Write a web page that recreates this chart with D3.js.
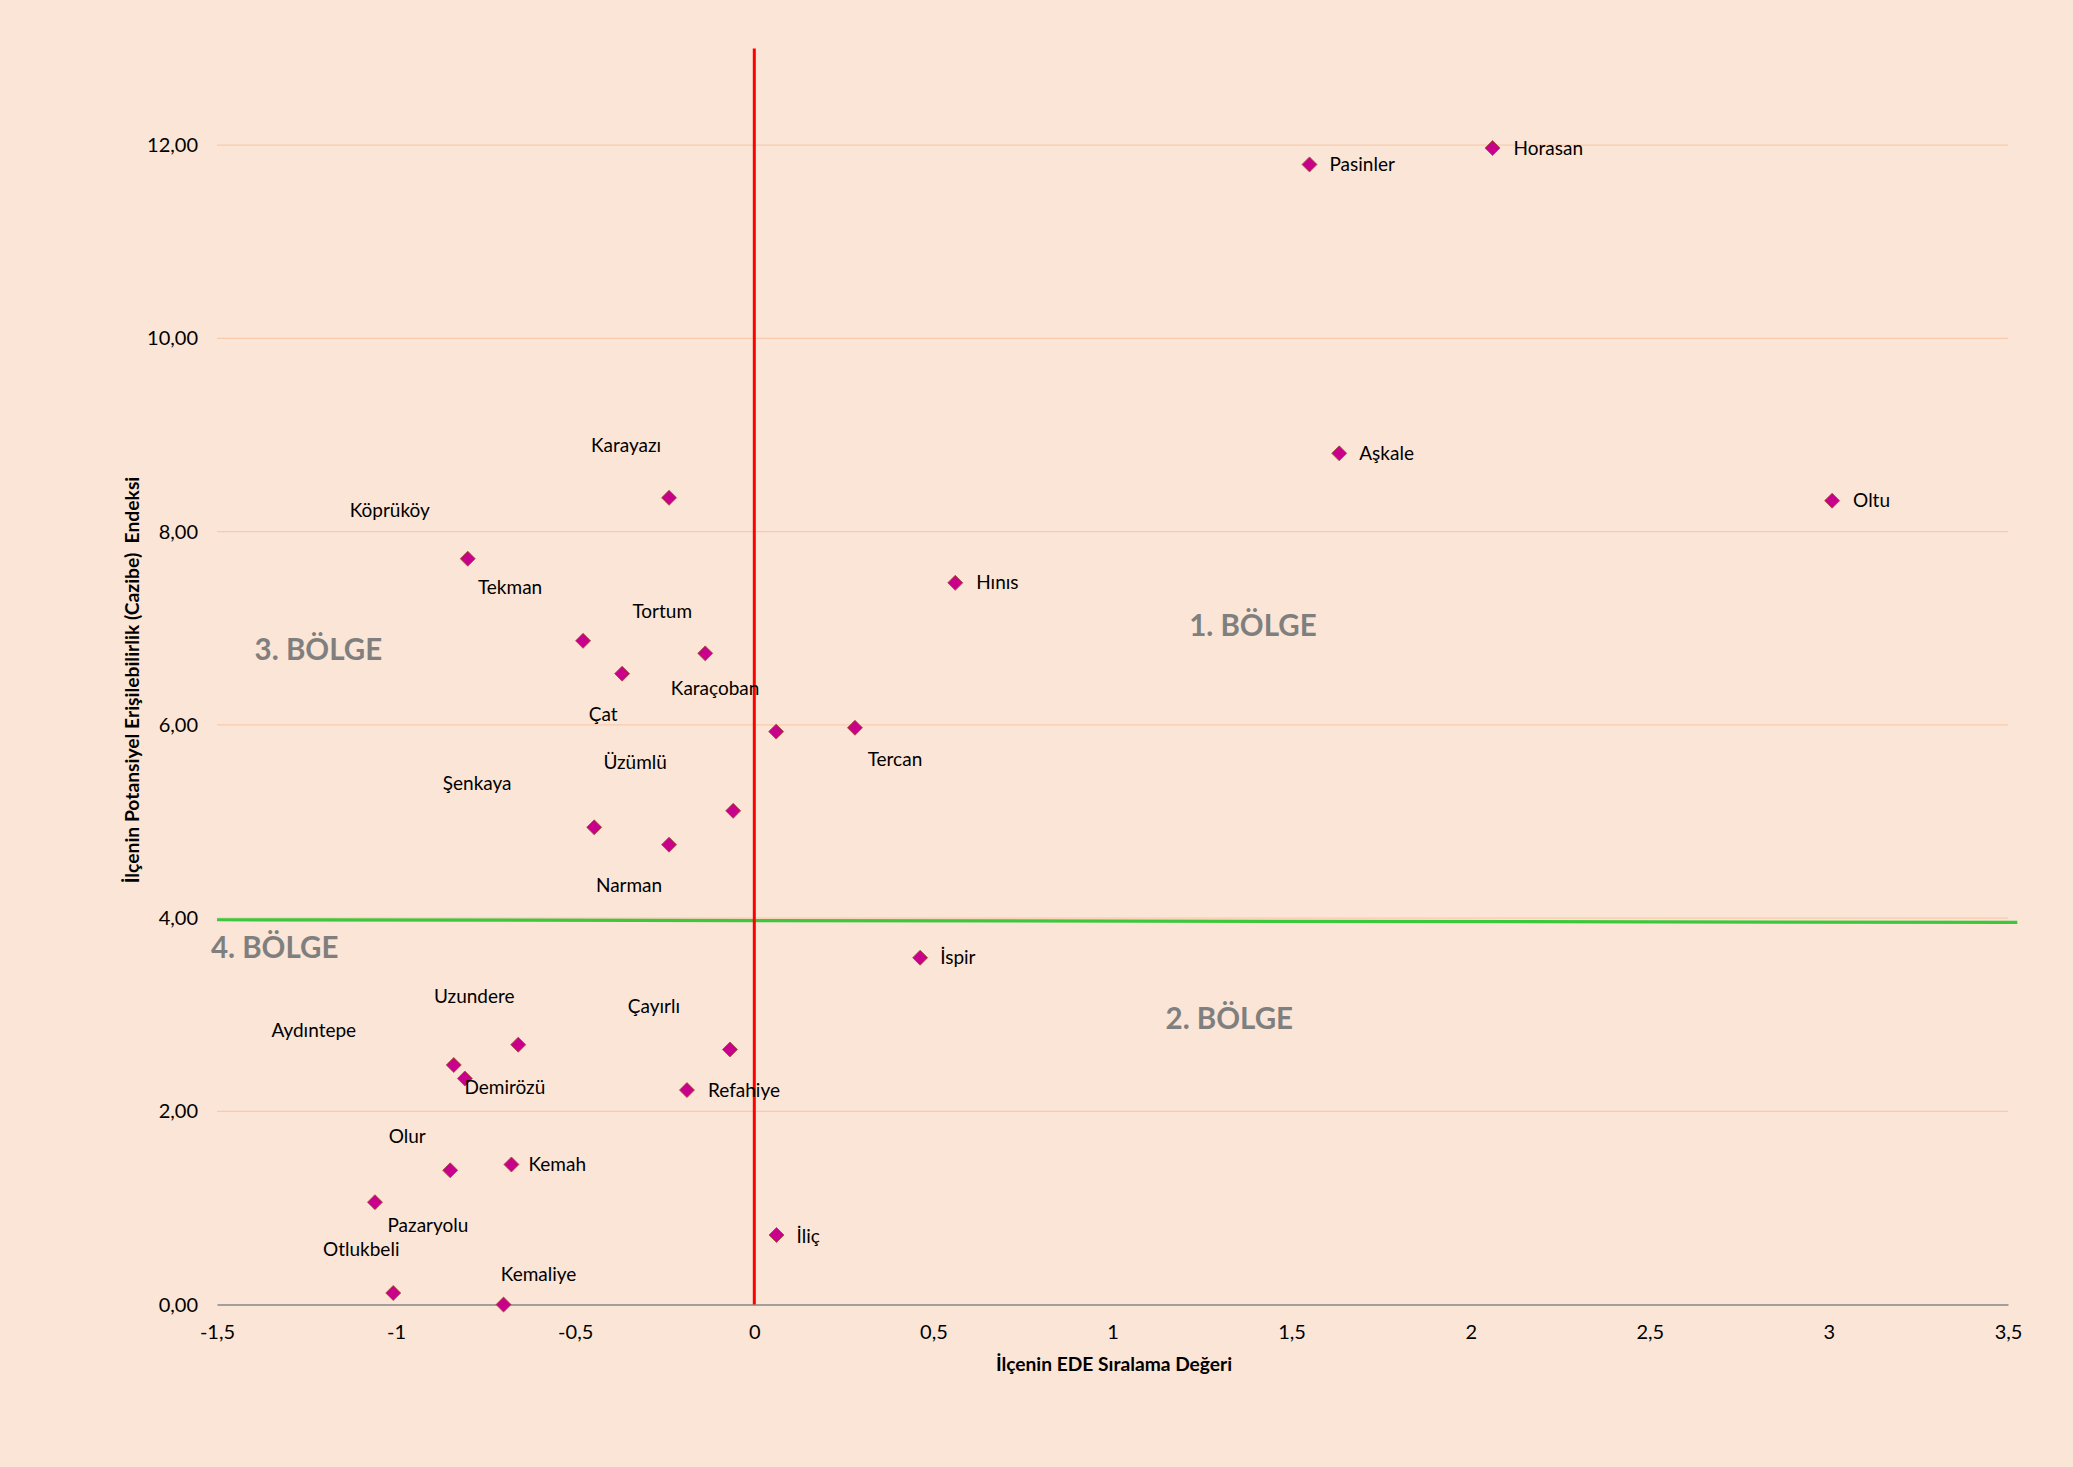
<!DOCTYPE html>
<html>
<head>
<meta charset="utf-8">
<script src="https://cdnjs.cloudflare.com/ajax/libs/d3/7.8.5/d3.min.js"></script>
<style>
  html, body { margin: 0; padding: 0; background: #FBE5D6; }
  svg { display: block; }
</style>
</head>
<body>
<svg id="chart" width="2073" height="1467"></svg>
<script>
// ---------------- DATA ----------------
const districts = ["Horasan","Pasinler","Aşkale","Oltu","Hınıs","Karayazı","Köprüköy","Tekman","Tortum","Çat",
  "Karaçoban","Tercan","Üzümlü","Şenkaya","Narman","İspir","Uzundere","Çayırlı","Aydıntepe","Demirözü",
  "Refahiye","Olur","Kemah","Pazaryolu","Otlukbeli","Kemaliye","İliç"];
const edeValues = [2.061, 1.550, 1.633, 3.009, 0.561, -0.238, -0.800, -0.478, -0.137, -0.369,
  0.061, 0.281, -0.059, -0.447, -0.238, 0.463, -0.659, -0.068, -0.839, -0.808,
  -0.188, -0.849, -0.678, -1.059, -1.008, -0.700, 0.062];
const cazibeValues = [11.97, 11.80, 8.81, 8.32, 7.47, 8.35, 7.72, 6.87, 6.74, 6.53,
  5.93, 5.97, 5.11, 4.94, 4.76, 3.59, 2.69, 2.64, 2.48, 2.34,
  2.22, 1.39, 1.45, 1.06, 0.12, 0.00, 0.72];
const xTicks = [-1.5, -1, -0.5, 0, 0.5, 1, 1.5, 2, 2.5, 3, 3.5];
const yTicks = [0, 2, 4, 6, 8, 10, 12];
const zoneNames = ["1. BÖLGE", "2. BÖLGE", "3. BÖLGE", "4. BÖLGE"];
const zoneX = [1.392, 1.326, -1.217, -1.339];
const zoneY = [7.03, 2.956, 6.775, 3.695];
const xTitle = "İlçenin EDE Sıralama Değeri";
const yTitle = "İlçenin Potansiyel Erişilebilirlik (Cazibe)  Endeksi";
// reference lines (data units)
const vLine = { x: 0, y0: 0, y1: 13 };
const hLine = { x0: -1.5, y0: 3.983, x1: 3.526, y1: 3.955 };

// ---------------- LAYOUT ----------------
// label placement: [dx, dy, anchor] in px relative to marker
const labelLayout = {
  "Horasan":[21,0,"start"], "Pasinler":[20,0,"start"], "Aşkale":[20,0,"start"], "Oltu":[21,0,"start"],
  "Hınıs":[21,0,"start"], "İspir":[20,0,"start"], "Kemah":[17,0,"start"], "Refahiye":[21,0,"start"], "İliç":[20,1,"start"],
  "Karayazı":[-43,-52,"middle"], "Köprüköy":[-78,-48,"middle"], "Tekman":[-73,-53,"middle"],
  "Tortum":[-43,-42,"middle"], "Karaçoban":[-61,-43,"middle"], "Çat":[-19,41,"middle"],
  "Tercan":[40,32,"middle"], "Üzümlü":[-98,-49,"middle"], "Şenkaya":[-117,-44,"middle"],
  "Narman":[-40,41,"middle"], "Uzundere":[-44,-48,"middle"], "Çayırlı":[-76,-43,"middle"],
  "Aydıntepe":[-140,-35,"middle"], "Demirözü":[40,9,"middle"], "Olur":[-43,-34,"middle"],
  "Pazaryolu":[53,23,"middle"], "Otlukbeli":[-32,-44,"middle"], "Kemaliye":[35,-30,"middle"]
};

const W = 2073, H = 1467;
const plot = { left: 217, right: 2008, top: 48.5, bottom: 1304.6 };
const FONT = "Lato, 'Open Sans', sans-serif";

const svg = d3.select("#chart");
svg.append("rect").attr("width", W).attr("height", H).attr("fill", "#FBE5D6");

const x = d3.scaleLinear().domain([-1.5, 3.5]).range([plot.left, plot.right]);
const y = d3.scaleLinear().domain([0, 13]).range([plot.bottom, plot.top]);

const loc = d3.formatLocale({ decimal: ",", thousands: ".", grouping: [3], currency: ["", " ₺"], minus: "-" });
const fmtY = loc.format(".2f");
const fmtX = loc.format(".2~f");

// gridlines
svg.append("g").selectAll("line").data(yTicks.filter(d => d > 0)).join("line")
  .attr("x1", plot.left).attr("x2", plot.right)
  .attr("y1", d => y(d)).attr("y2", d => y(d))
  .attr("stroke", "#F8CBAD").attr("stroke-width", 1.3);

// y axis (labels only)
const yAxis = svg.append("g").attr("transform", `translate(${plot.left},0)`)
  .call(d3.axisLeft(y).tickValues(yTicks).tickFormat(fmtY).tickSize(0).tickPadding(19));
yAxis.select(".domain").remove();
yAxis.selectAll("text").attr("font-family", FONT).attr("font-size", 20).attr("fill", "#000");

// x axis
const xAxis = svg.append("g").attr("transform", `translate(0,${plot.bottom})`)
  .call(d3.axisBottom(x).tickValues(xTicks).tickFormat(fmtX).tickSize(0).tickPadding(20));
xAxis.select(".domain").attr("stroke", "#868686").attr("stroke-width", 1.5);
xAxis.selectAll("text").attr("font-family", FONT).attr("font-size", 20).attr("fill", "#000");

// axis titles
svg.append("text").attr("x", 1114).attr("y", 1364).attr("dy", "0.35em")
  .attr("text-anchor", "middle").attr("font-family", FONT).attr("font-weight", "bold")
  .attr("font-size", 19.2).text(xTitle);
svg.append("text").attr("transform", "translate(132,680) rotate(-90)").attr("dy", "0.35em")
  .attr("text-anchor", "middle").attr("font-family", FONT).attr("font-weight", "bold")
  .attr("font-size", 19.3).attr("xml:space", "preserve").style("white-space", "pre").text(yTitle);

// reference lines
svg.append("line").attr("x1", x(hLine.x0)).attr("y1", y(hLine.y0))
  .attr("x2", x(hLine.x1)).attr("y2", y(hLine.y1))
  .attr("stroke", "#3CC83C").attr("stroke-width", 3.2);
svg.append("line").attr("x1", x(vLine.x)).attr("x2", x(vLine.x))
  .attr("y1", y(vLine.y0)).attr("y2", y(vLine.y1))
  .attr("stroke", "#FF0000").attr("stroke-width", 3);

// zone labels
svg.append("g").selectAll("text").data(zoneNames).join("text")
  .attr("x", (d, i) => x(zoneX[i])).attr("y", (d, i) => y(zoneY[i])).attr("dy", "0.35em")
  .attr("text-anchor", "middle").attr("font-family", FONT).attr("font-weight", "bold")
  .attr("font-size", 29.5).attr("fill", "#7F7F7F").text(d => d);

// points
const pts = districts.map((n, i) => ({ name: n, ede: edeValues[i], caz: cazibeValues[i] }));
const diamond = d3.symbol().type(d3.symbolSquare).size(112);
svg.append("g").selectAll("path").data(pts).join("path")
  .attr("d", diamond)
  .attr("transform", d => `translate(${x(d.ede)},${y(d.caz)}) rotate(45)`)
  .attr("fill", "#C8008C").attr("stroke", "#A0522D").attr("stroke-width", 0.8);

// point labels
svg.append("g").selectAll("text").data(pts).join("text")
  .attr("x", d => x(d.ede) + labelLayout[d.name][0])
  .attr("y", d => y(d.caz) + labelLayout[d.name][1])
  .attr("dy", "0.35em")
  .attr("text-anchor", d => labelLayout[d.name][2])
  .attr("font-family", FONT).attr("font-size", 19).attr("fill", "#000")
  .text(d => d.name);
</script>
</body>
</html>
